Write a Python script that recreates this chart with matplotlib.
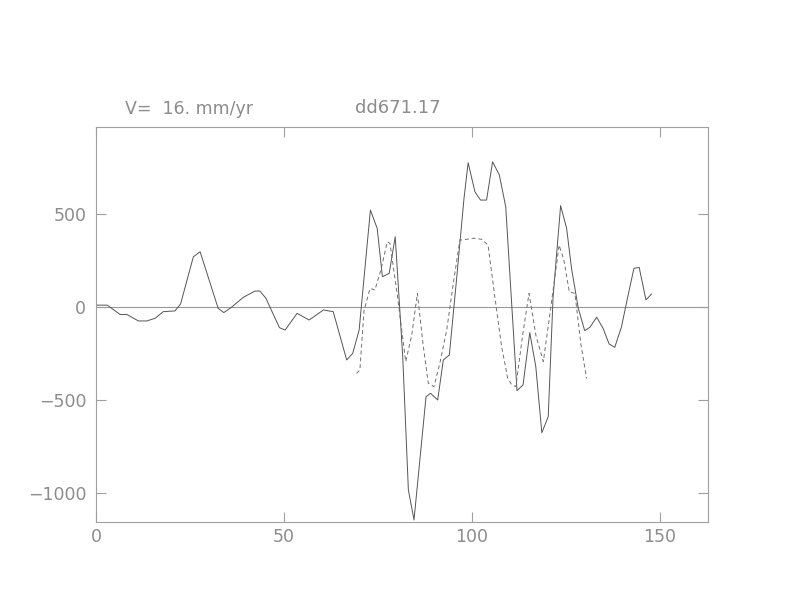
import matplotlib.pyplot as plt
import numpy as np

# solid profile (observed)
obs_x = [0, 3, 6.4, 8.2, 11.3, 13.5, 15.7, 17.9, 21, 22.5, 25.9, 27.7, 32.5, 34, 36,
         39.2, 42.3, 43.6, 45.2, 48.8, 50.3, 53.5, 56.7, 60.5, 63.1, 66.7, 68.3, 70,
         73, 74.8, 76.2, 78, 79.6, 81.6, 83.1, 84.6, 87.8, 89, 90.9, 92.4, 94, 95.9,
         97.9, 99, 100.8, 102.3, 103.9, 105.5, 107.3, 109, 112, 113.6, 115.4, 117,
         118.6, 120.3, 121.6, 123.6, 125.2, 126.5, 128.3, 130, 131.4, 133.2, 134.9,
         136.5, 138, 139.8, 141.1, 143.1, 144.5, 146.3, 147.8]
obs_y = [10, 10, -40, -40, -75, -75, -61, -25, -21, 16, 270, 297, -7, -30, -2,
         52, 86, 86, 47, -111, -124, -34, -70, -16, -25, -285, -249, -124,
         521, 423, 163, 181, 378, -267, -984, -1145, -482, -464, -500, -285, -258, 145,
         584, 776, 620, 575, 575, 781, 710, 539, -450, -419, -138, -321,
         -676, -590, 55, 545, 423, 208, -7, -127, -109, -55, -115,
         -199, -217, -106, 20, 208, 213, 38, 70]

# dashed profile (model)
mod_x = [69.3, 70.2, 71.3, 72.9, 74.2, 75.8, 77.5, 78.2, 80.1, 82.4, 84, 85.5, 87,
         88.4, 89.9, 91.5, 93.3, 95, 96.8, 98.6, 100.5, 102.6, 104.3, 106.1, 107.9,
         109.5, 110.6, 111.7, 113.5, 115.2, 117, 119, 121, 123.2, 124.5, 125.9,
         127.4, 129, 130.5]
mod_y = [-357, -339, -20, 100, 91, 200, 351, 342, 73, -294, -150, 73, -200,
         -410, -428, -300, -124, 120, 360, 364, 370, 364, 333, 55, -213,
         -380, -419, -428, -150, 73, -150, -294, 0, 333, 250, 82,
         73, -200, -384]

grey = '#8c8c8c'
fig = plt.figure(figsize=(7.92, 6.12), dpi=100)
ax = fig.add_axes([0.1212, 0.1471, 0.7727, 0.6454])

ax.axhline(0, color='#999999', lw=0.8)
ax.plot(obs_x, obs_y, color='#555555', lw=0.7)
ax.plot(mod_x, mod_y, color='#707070', lw=0.7, dashes=(4, 3))

ax.set_xlim(0, 162.8)
ax.set_ylim(-1156, 968)
ax.set_xticks([0, 50, 100, 150])
ax.set_yticks([-1000, -500, 0, 500])
ax.set_yticklabels(['\u22121000', '\u2212500', '0', '500'])
ax.tick_params(direction='in', length=7, width=0.8, color='#a0a0a0', labelcolor=grey,
               labelsize=12.5, top=True, right=True)
ax.tick_params(axis='x', pad=4)
ax.tick_params(axis='y', pad=7)
for s in ax.spines.values():
    s.set_color('#a0a0a0')
    s.set_linewidth(0.8)

fig.text(125 / 792, 1 - 109 / 612, 'V=  16. mm/yr', color=grey, fontsize=12.5,
         va='center', ha='left')
fig.text(355 / 792, 1 - 108 / 612, 'dd671.17', color=grey, fontsize=13,
         va='center', ha='left')

fig.savefig('out.png', dpi=100)
